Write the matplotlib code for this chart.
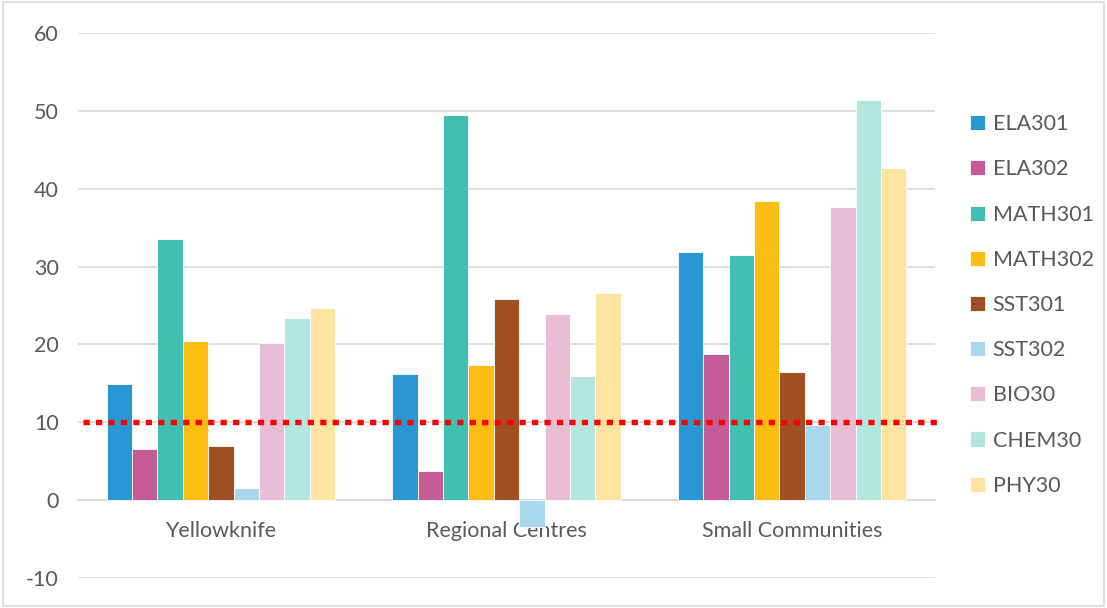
import numpy as np
import matplotlib.pyplot as plt
from matplotlib.patches import Rectangle

plt.rcParams['font.family'] = ['Lato', 'DejaVu Sans']
plt.rcParams['axes.unicode_minus'] = False

regions = ['Yellowknife', 'Regional Centres', 'Small Communities']
courses = ['ELA301', 'ELA302', 'MATH301', 'MATH302', 'SST301',
           'SST302', 'BIO30', 'CHEM30', 'PHY30']

# one list per course: Yellowknife, Regional Centres, Small Communities
ela301 = [14.9, 16.2, 31.9]
ela302 = [6.6, 3.8, 18.8]
math301 = [33.5, 49.5, 31.5]
math302 = [20.4, 17.4, 38.4]
sst301 = [6.9, 25.8, 16.4]
sst302 = [1.5, -3.4, 9.6]
bio30 = [20.2, 23.9, 37.7]
chem30 = [23.4, 15.9, 51.4]
phy30 = [24.7, 26.6, 42.6]
threshold = 10.1

series = [ela301, ela302, math301, math302, sst301, sst302, bio30, chem30, phy30]
colors = ['#2A97D5', '#C55B97', '#41BFB3', '#FCBD12', '#A15023',
          '#A8D7EE', '#E9BDD5', '#B4E6E0', '#FFE3A0']

text_col = '#595959'
grid_col = '#D9D9D9'

fig = plt.figure(figsize=(11.07, 6.08), dpi=100)
ax = fig.add_axes([78/1107, 30/608, (935-78)/1107, 545/608])

x = np.arange(len(regions))
group = 0.8
w = group / len(series)
for i, (vals, c) in enumerate(zip(series, colors)):
    ax.bar(x - group/2 + w*(i + 0.5), vals, width=w, color=c,
           edgecolor='white', linewidth=0.6, label=courses[i], zorder=3)

# dotted red reference line
ax.plot([-0.482, 2.517], [threshold, threshold], color='#FF0000', lw=3.9,
        linestyle=(0, (1.15, 1.15)), dash_capstyle='butt',
        clip_on=False, zorder=4)

ax.set_xlim(-0.5, 2.5)
ax.set_ylim(-10, 60)
ax.set_yticks(range(-10, 61, 10))
ax.set_xticks(x)
ax.set_xticklabels(regions)

ax.grid(axis='y', color=grid_col, lw=1.2, zorder=0)
for s in ['top', 'right', 'left']:
    ax.spines[s].set_visible(False)
ax.spines['bottom'].set_position(('data', 0))
ax.spines['bottom'].set_color(grid_col)
ax.spines['bottom'].set_linewidth(1.2)
ax.tick_params(axis='both', length=0, labelsize=15.5, colors=text_col)
ax.tick_params(axis='y', pad=14)
ax.tick_params(axis='x', pad=15)

leg = fig.legend(loc='center left', bbox_to_anchor=(970/1107, 1 - 305/608),
                 frameon=False, fontsize=15.5, handlelength=0.7,
                 handleheight=0.7, handletextpad=0.35, labelspacing=1.17,
                 borderpad=0, borderaxespad=0)
for t in leg.get_texts():
    t.set_color(text_col)

fig.patches.append(Rectangle((0.003, 0.004), 0.994, 0.992,
                             transform=fig.transFigure, fill=False,
                             edgecolor=grid_col, lw=1.2))

fig.savefig('out.png', dpi=100)
